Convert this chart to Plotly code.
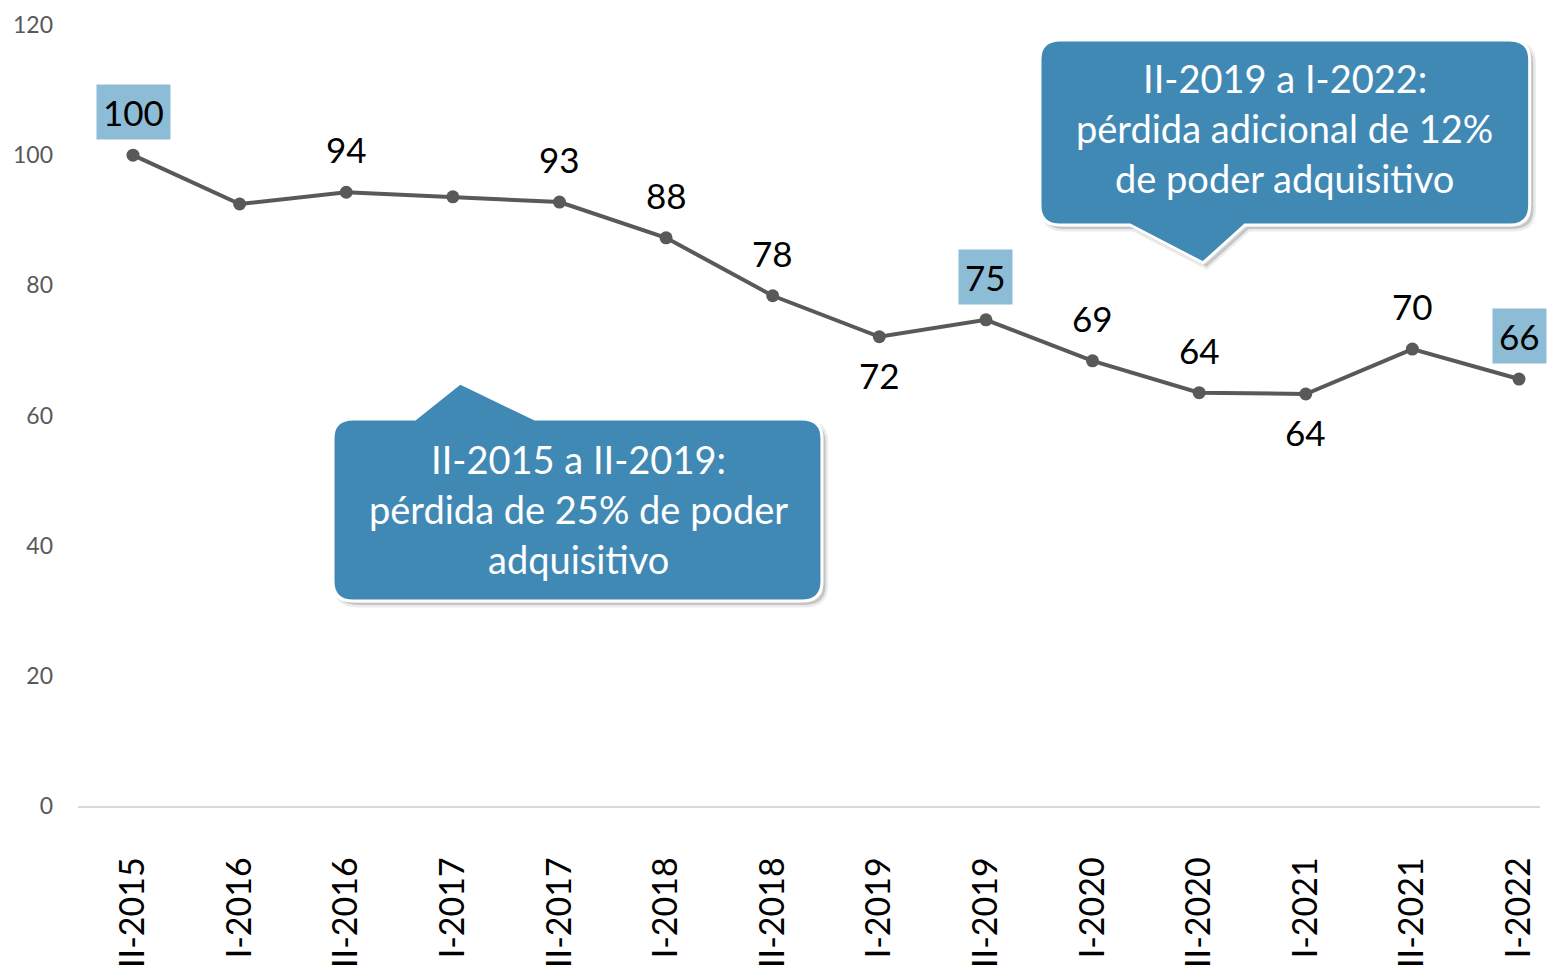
import plotly.graph_objects as go

periods = ["II-2015", "I-2016", "II-2016", "I-2017", "II-2017", "I-2018", "II-2018",
           "I-2019", "II-2019", "I-2020", "II-2020", "I-2021", "II-2021", "I-2022"]
values = [100, 92.5, 94.3, 93.6, 92.8, 87.3, 78.4, 72.1, 74.7, 68.4, 63.5, 63.3, 70.2, 65.6]
labels = ["100", "", "94", "", "93", "88", "78", "72", "75", "69", "64", "64", "70", "66"]
label_pos = ["above", "", "above", "", "above", "above", "above", "below", "above",
             "above", "above", "below", "above", "above"]
highlight = [True, False, False, False, False, False, False, False, True,
             False, False, False, False, True]
yticks = [0, 20, 40, 60, 80, 100, 120]

callout_lines = [
    ["II-2015 a II-2019:", "pérdida de 25% de poder", "adquisitivo"],
    ["II-2019 a I-2022:", "pérdida adicional de 12%", "de poder adquisitivo"],
]

FONT = "Lato"
xs = list(range(len(periods)))

fig = go.Figure()
fig.add_trace(go.Scatter(
    x=xs, y=values, mode="lines+markers",
    line=dict(color="#595959", width=4),
    marker=dict(color="#595959", size=13),
    hoverinfo="skip", showlegend=False, cliponaxis=False,
))

annotations = []
for i, (v, lab, pos, hl) in enumerate(zip(values, labels, label_pos, highlight)):
    if not lab:
        continue
    annotations.append(dict(
        x=i, y=v, xref="x", yref="y", text=lab, showarrow=False,
        yshift=43 if pos == "above" else -38,
        font=dict(family=FONT, size=35, color="#000000"),
        bgcolor="#8dbcd7" if hl else "rgba(0,0,0,0)",
        borderpad=6,
    ))


def callout_path(x0, x1, y0, y1, ptr, top=True, rx=0.19, ry=3.0):
    p = f"M {x0+rx},{y1} "
    if top:
        for (px, py) in ptr:
            p += f"L {px},{py} "
    p += f"L {x1-rx},{y1} Q {x1},{y1} {x1},{y1-ry} "
    p += f"L {x1},{y0+ry} Q {x1},{y0} {x1-rx},{y0} "
    if not top:
        for (px, py) in ptr:
            p += f"L {px},{py} "
    p += f"L {x0+rx},{y0} Q {x0},{y0} {x0},{y0+ry} "
    p += f"L {x0},{y1-ry} Q {x0},{y1} {x0+rx},{y1} Z"
    return p


boxes = [
    dict(x0=1.876, x1=6.462, y0=31.5, y1=59.47,
         ptr=[(2.645, 59.47), (3.067, 65.0), (3.770, 59.47)], top=True,
         tx=4.174, ty=45.6),
    dict(x0=8.507, x1=13.10, y0=89.27, y1=117.7,
         ptr=[(10.43, 89.27), (10.036, 83.44), (9.351, 89.27)], top=False,
         tx=10.805, ty=104.2),
]

shapes = []
for b, lines in zip(boxes, callout_lines):
    dx, dy = 0.035, -0.6
    shp = callout_path(b["x0"] + dx, b["x1"] + dx, b["y0"] + dy, b["y1"] + dy,
                       [(px + dx, py + dy) for px, py in b["ptr"]], b["top"])
    shapes.append(dict(type="path", path=shp, xref="x", yref="y",
                       fillcolor="rgba(0,0,0,0.16)", line=dict(color="rgba(0,0,0,0.08)", width=5),
                       layer="above"))
    shapes.append(dict(type="path", path=callout_path(b["x0"], b["x1"], b["y0"], b["y1"], b["ptr"], b["top"]),
                       xref="x", yref="y", fillcolor="#4189b5",
                       line=dict(color="#ffffff", width=3), layer="above"))
    for k, line in enumerate(lines):
        annotations.append(dict(
            x=b["tx"], y=b["ty"], xref="x", yref="y", text=line, showarrow=False,
            yshift=(1 - k) * 50,
            font=dict(family=FONT, size=38, color="#ffffff"), align="center",
        ))

# page body has an 8px margin, so the figure is sized to fill the rest of the window
fig.update_layout(
    width=1547, height=964,
    margin=dict(l=70, r=15, t=17, b=166, autoexpand=False),
    paper_bgcolor="#ffffff", plot_bgcolor="#ffffff",
    shapes=shapes, annotations=annotations,
    xaxis=dict(
        range=[-0.516, 13.197], tickvals=xs, ticktext=periods, tickangle=-90,
        showgrid=False, zeroline=False, showline=True, linecolor="#d9d9d9", linewidth=1.5,
        ticks="", ticklabelstandoff=36, automargin=False,
        tickfont=dict(family=FONT, size=34, color="#000000"),
    ),
    yaxis=dict(
        range=[0, 120], tickvals=yticks, showgrid=False, zeroline=False, showline=False,
        ticks="", ticklabelstandoff=24, automargin=False,
        tickfont=dict(family=FONT, size=23, color="#595959"),
    ),
)

fig.write_html("out.html")
